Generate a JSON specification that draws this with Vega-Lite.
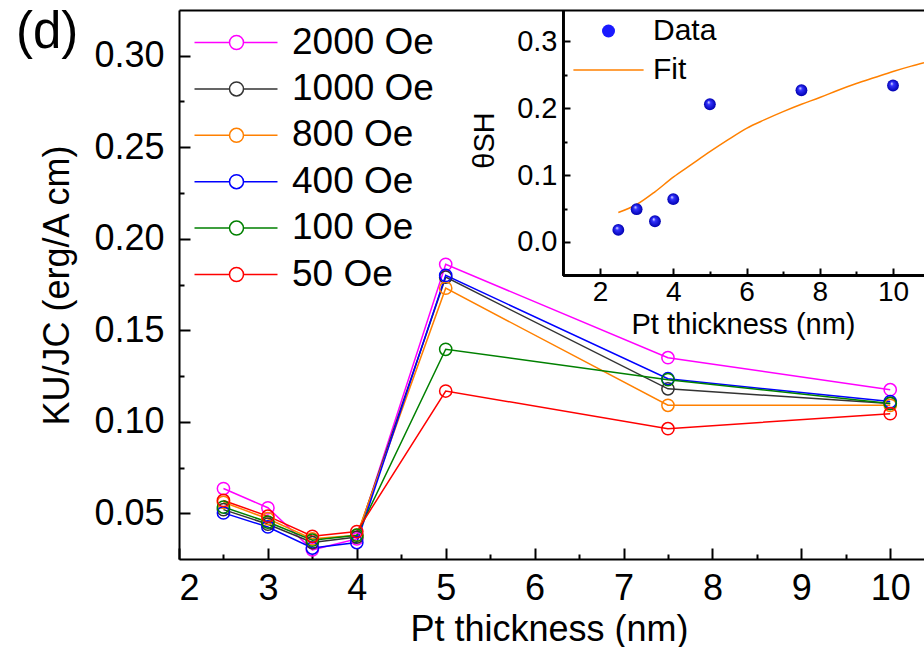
{
  "$schema": "https://vega.github.io/schema/vega-lite/v6.json",
  "width": 745,
  "height": 549,
  "autosize": {"type": "none"},
  "padding": {"left": 179, "top": 10, "right": 0, "bottom": 88},
  "background": "white",
  "config": {
    "view": {"stroke": null},
    "font": "Liberation Sans",
    "axis": {
      "grid": false,
      "domainColor": "#000",
      "domainWidth": 2,
      "tickColor": "#000",
      "tickWidth": 2,
      "labelColor": "#000",
      "titleColor": "#000",
      "labelFont": "Liberation Sans",
      "titleFont": "Liberation Sans",
      "titleFontWeight": "normal"
    }
  },
  "title": {
    "text": "(d)",
    "anchor": "start",
    "frame": "group",
    "font": "Liberation Sans",
    "fontSize": 51,
    "fontWeight": "normal",
    "color": "#000",
    "offset": 0,
    "dx": -163,
    "dy": 50
  },
  "datasets": {
    "main": [
      {"field": "2000 Oe", "t": 2.5, "k": 0.0635},
      {"field": "2000 Oe", "t": 3, "k": 0.053},
      {"field": "2000 Oe", "t": 3.5, "k": 0.030},
      {"field": "2000 Oe", "t": 4, "k": 0.036},
      {"field": "2000 Oe", "t": 5, "k": 0.186},
      {"field": "2000 Oe", "t": 7.5, "k": 0.135},
      {"field": "2000 Oe", "t": 10, "k": 0.1175},
      {"field": "1000 Oe", "t": 2.5, "k": 0.052},
      {"field": "1000 Oe", "t": 3, "k": 0.044},
      {"field": "1000 Oe", "t": 3.5, "k": 0.034},
      {"field": "1000 Oe", "t": 4, "k": 0.037},
      {"field": "1000 Oe", "t": 5, "k": 0.179},
      {"field": "1000 Oe", "t": 7.5, "k": 0.118},
      {"field": "1000 Oe", "t": 10, "k": 0.110},
      {"field": "800 Oe", "t": 2.5, "k": 0.056},
      {"field": "800 Oe", "t": 3, "k": 0.047},
      {"field": "800 Oe", "t": 3.5, "k": 0.036},
      {"field": "800 Oe", "t": 4, "k": 0.038},
      {"field": "800 Oe", "t": 5, "k": 0.173},
      {"field": "800 Oe", "t": 7.5, "k": 0.109},
      {"field": "800 Oe", "t": 10, "k": 0.109},
      {"field": "400 Oe", "t": 2.5, "k": 0.0502},
      {"field": "400 Oe", "t": 3, "k": 0.0425},
      {"field": "400 Oe", "t": 3.5, "k": 0.031},
      {"field": "400 Oe", "t": 4, "k": 0.034},
      {"field": "400 Oe", "t": 5, "k": 0.180},
      {"field": "400 Oe", "t": 7.5, "k": 0.1235},
      {"field": "400 Oe", "t": 10, "k": 0.111},
      {"field": "100 Oe", "t": 2.5, "k": 0.0534},
      {"field": "100 Oe", "t": 3, "k": 0.0452},
      {"field": "100 Oe", "t": 3.5, "k": 0.0353},
      {"field": "100 Oe", "t": 4, "k": 0.038},
      {"field": "100 Oe", "t": 5, "k": 0.1396},
      {"field": "100 Oe", "t": 7.5, "k": 0.123},
      {"field": "100 Oe", "t": 10, "k": 0.110},
      {"field": "50 Oe", "t": 2.5, "k": 0.057},
      {"field": "50 Oe", "t": 3, "k": 0.0484},
      {"field": "50 Oe", "t": 3.5, "k": 0.0374},
      {"field": "50 Oe", "t": 4, "k": 0.040},
      {"field": "50 Oe", "t": 5, "k": 0.1168},
      {"field": "50 Oe", "t": 7.5, "k": 0.0962},
      {"field": "50 Oe", "t": 10, "k": 0.1044}
    ],
    "inset": [
      {"kind": "Data", "t": 2.5, "theta": 0.018},
      {"kind": "Data", "t": 3, "theta": 0.049},
      {"kind": "Data", "t": 3.5, "theta": 0.031},
      {"kind": "Data", "t": 4, "theta": 0.064},
      {"kind": "Data", "t": 5, "theta": 0.206},
      {"kind": "Data", "t": 7.5, "theta": 0.227},
      {"kind": "Data", "t": 10, "theta": 0.234}
    ],
    "fit": [
      {"kind": "Fit", "t": 2.5, "theta": 0.044},
      {"kind": "Fit", "t": 3, "theta": 0.056},
      {"kind": "Fit", "t": 3.5, "theta": 0.075},
      {"kind": "Fit", "t": 4, "theta": 0.097},
      {"kind": "Fit", "t": 4.5, "theta": 0.116},
      {"kind": "Fit", "t": 5, "theta": 0.135},
      {"kind": "Fit", "t": 5.5, "theta": 0.153},
      {"kind": "Fit", "t": 6, "theta": 0.170},
      {"kind": "Fit", "t": 6.5, "theta": 0.183},
      {"kind": "Fit", "t": 7, "theta": 0.195},
      {"kind": "Fit", "t": 7.5, "theta": 0.206},
      {"kind": "Fit", "t": 8, "theta": 0.216},
      {"kind": "Fit", "t": 8.5, "theta": 0.227},
      {"kind": "Fit", "t": 9, "theta": 0.237},
      {"kind": "Fit", "t": 9.5, "theta": 0.246},
      {"kind": "Fit", "t": 10, "theta": 0.255},
      {"kind": "Fit", "t": 10.5, "theta": 0.263},
      {"kind": "Fit", "t": 10.846, "theta": 0.268}
    ]
  },
  "layer": [
    {
      "data": {"name": "main"},
      "mark": {"type": "line", "strokeWidth": 1.5},
      "encoding": {
        "x": {
          "field": "t", "type": "quantitative",
          "scale": {"domain": [2, 10.38], "nice": false, "zero": false},
          "axis": {
            "orient": "bottom",
            "values": [2, 3, 4, 5, 6, 7, 8, 9, 10],
            "ticks": false,
            "labelFontSize": 36,
            "labelPadding": 12,
            "title": "Pt thickness (nm)",
            "titleFontSize": 36,
            "titleBaseline": "alphabetic",
            "titleAlign": "center",
            "titleX": 370,
            "titleY": 81
          }
        },
        "y": {
          "field": "k", "type": "quantitative",
          "scale": {"domain": [0.025, 0.325], "nice": false, "zero": false},
          "axis": {
            "orient": "left",
            "values": [0.05, 0.10, 0.15, 0.20, 0.25, 0.30],
            "format": ".2f",
            "ticks": false,
            "labelFontSize": 36,
            "labelPadding": 15,
            "title": "KU/JC (erg/A cm)",
            "titleFontSize": 36,
            "titleAngle": 270,
            "titleBaseline": "alphabetic",
            "titleAlign": "center",
            "titleX": -111,
            "titleY": 275
          }
        },
        "color": {
          "field": "field", "type": "nominal",
          "scale": {
            "domain": ["2000 Oe", "1000 Oe", "800 Oe", "400 Oe", "100 Oe", "50 Oe"],
            "range": ["#ff00ff", "#333333", "#ff8000", "#0000ff", "#008000", "#ff0000"]
          },
          "legend": {
            "orient": "none",
            "legendX": 39,
            "legendY": 14,
            "title": null,
            "padding": 0,
            "symbolType": "M-5.25,0H-0.875M0.875,0H5.125M-0.875,0A0.875,0.875,0,1,0,0.875,0A0.875,0.875,0,1,0,-0.875,0",
            "symbolSize": 256,
            "symbolStrokeWidth": 1.5,
            "symbolFillColor": "transparent",
            "labelFontSize": 37,
            "labelFont": "Liberation Sans",
            "labelColor": "#000",
            "labelOffset": 37,
            "labelLimit": 400,
            "rowPadding": 8.4
          }
        }
      }
    },
    {
      "data": {"name": "main"},
      "mark": {"type": "point", "shape": "circle", "filled": false, "size": 150, "strokeWidth": 1.5, "opacity": 1},
      "encoding": {
        "x": {"field": "t", "type": "quantitative", "scale": {"domain": [2, 10.38], "nice": false, "zero": false}, "axis": null},
        "y": {"field": "k", "type": "quantitative", "scale": {"domain": [0.025, 0.325], "nice": false, "zero": false}, "axis": null},
        "color": {"field": "field", "type": "nominal"}
      }
    },
    {
      "data": {"name": "main"},
      "mark": {"type": "point", "opacity": 0},
      "encoding": {
        "x": {
          "field": "t", "type": "quantitative",
          "scale": {"domain": [2, 10.38], "nice": false, "zero": false},
          "axis": {"orient": "top", "offset": -549, "values": [2, 3, 4, 5, 6, 7, 8, 9, 10], "tickSize": 11, "labels": false, "domain": false, "title": null}
        },
        "y": {
          "field": "k", "type": "quantitative",
          "scale": {"domain": [0.025, 0.325], "nice": false, "zero": false},
          "axis": {"orient": "right", "offset": -745, "values": [0.05, 0.10, 0.15, 0.20, 0.25, 0.30], "tickSize": 11, "labels": false, "domain": false, "title": null}
        }
      }
    },
    {
      "data": {"name": "main"},
      "mark": {"type": "point", "opacity": 0},
      "encoding": {
        "x": {
          "field": "t", "type": "quantitative",
          "scale": {"domain": [2, 10.38], "nice": false, "zero": false},
          "axis": {"orient": "top", "offset": -549, "values": [2.5, 3.5, 4.5, 5.5, 6.5, 7.5, 8.5, 9.5], "tickSize": 5, "labels": false, "domain": false, "title": null}
        },
        "y": {
          "field": "k", "type": "quantitative",
          "scale": {"domain": [0.025, 0.325], "nice": false, "zero": false},
          "axis": {"orient": "right", "offset": -745, "values": [0.075, 0.125, 0.175, 0.225, 0.275], "tickSize": 5, "labels": false, "domain": false, "title": null}
        }
      }
    },
    {
      "data": {"name": "main"},
      "mark": {"type": "point", "opacity": 0},
      "encoding": {
        "x": {
          "field": "t", "type": "quantitative",
          "scale": {"domain": [2, 10.38], "nice": false, "zero": false},
          "axis": {"orient": "top", "ticks": false, "labels": false, "domain": true, "title": null}
        },
        "y": {
          "field": "k", "type": "quantitative",
          "scale": {"domain": [0.025, 0.325], "nice": false, "zero": false},
          "axis": null
        }
      }
    },
    {
      "data": {"name": "fit"},
      "mark": {"type": "line", "strokeWidth": 1.5, "interpolate": "monotone"},
      "encoding": {
        "x": {
          "field": "t", "type": "quantitative",
          "scale": {"domain": [-9.495, 10.846], "nice": false, "zero": false},
          "axis": {
            "orient": "bottom", "offset": -284, "domain": false, "ticks": false,
            "values": [2, 4, 6, 8, 10],
            "labelFontSize": 28,
            "labelPadding": 3,
            "title": "Pt thickness (nm)",
            "titleFontSize": 29,
            "titleBaseline": "alphabetic",
            "titleAlign": "center",
            "titleX": 564,
            "titleY": 58
          }
        },
        "y": {
          "field": "theta", "type": "quantitative",
          "scale": {"domain": [-0.4743, 0.347], "nice": false, "zero": false},
          "axis": {
            "orient": "left", "offset": -384, "domain": false, "ticks": false,
            "values": [0, 0.1, 0.2, 0.3],
            "format": ".1f",
            "labelFontSize": 29,
            "labelPadding": 6,
            "title": "θSH",
            "titleFontSize": 29,
            "titleAngle": 270,
            "titleBaseline": "alphabetic",
            "titleAlign": "center",
            "titleX": -70,
            "titleY": 130
          }
        },
        "stroke": {
          "field": "kind", "type": "nominal",
          "scale": {"domain": ["Fit"], "range": ["#ff8000"]},
          "legend": {
            "orient": "none",
            "legendX": 414.5,
            "legendY": 45,
            "title": null,
            "padding": 0,
            "symbolType": "M-5.4,0H5.4",
            "symbolSize": 169,
            "symbolStrokeWidth": 1.5,
            "labelFontSize": 30,
            "labelFont": "Liberation Sans",
            "labelColor": "#000",
            "labelOffset": 29.5
          }
        }
      }
    },
    {
      "data": {"name": "inset"},
      "mark": {"type": "point", "shape": "circle", "filled": true, "size": 140, "opacity": 0},
      "encoding": {
        "x": {"field": "t", "type": "quantitative", "scale": {"domain": [-9.495, 10.846], "nice": false, "zero": false}, "axis": null},
        "y": {"field": "theta", "type": "quantitative", "scale": {"domain": [-0.4743, 0.347], "nice": false, "zero": false}, "axis": null},
        "fill": {
          "field": "kind", "type": "nominal",
          "scale": {"domain": ["Data"], "range": ["#1a1aff"]},
          "legend": {
            "orient": "none",
            "legendX": 414.5,
            "legendY": 6,
            "title": null,
            "padding": 0,
            "symbolType": "circle",
            "symbolSize": 169,
            "symbolOpacity": 1,
            "labelFontSize": 30,
            "labelFont": "Liberation Sans",
            "labelColor": "#000",
            "labelOffset": 29.5
          }
        }
      }
    },
    {
      "data": {"name": "inset"},
      "mark": {
        "type": "point", "shape": "circle", "filled": true, "size": 140, "opacity": 1,
        "fill": {
          "gradient": "radial",
          "x1": 0.38, "y1": 0.32, "r1": 0,
          "x2": 0.5, "y2": 0.5, "r2": 0.5,
          "stops": [
            {"offset": 0, "color": "#ffffff"},
            {"offset": 0.3, "color": "#3333ff"},
            {"offset": 1, "color": "#0000b0"}
          ]
        }
      },
      "encoding": {
        "x": {"field": "t", "type": "quantitative", "scale": {"domain": [-9.495, 10.846], "nice": false, "zero": false}, "axis": null},
        "y": {"field": "theta", "type": "quantitative", "scale": {"domain": [-0.4743, 0.347], "nice": false, "zero": false}, "axis": null}
      }
    },
    {
      "data": {"name": "inset"},
      "mark": {"type": "point", "opacity": 0},
      "encoding": {
        "x": {
          "field": "t", "type": "quantitative",
          "scale": {"domain": [-9.495, 10.846], "nice": false, "zero": false},
          "axis": {"orient": "top", "offset": -265, "values": [2, 4, 6, 8, 10], "tickSize": 7, "labels": false, "domain": false, "title": null}
        },
        "y": {
          "field": "theta", "type": "quantitative",
          "scale": {"domain": [-0.4743, 0.347], "nice": false, "zero": false},
          "axis": {"orient": "right", "offset": -361, "values": [0, 0.1, 0.2, 0.3], "tickSize": 7, "labels": false, "domain": false, "title": null}
        }
      }
    },
    {
      "data": {"name": "inset"},
      "mark": {"type": "point", "opacity": 0},
      "encoding": {
        "x": {
          "field": "t", "type": "quantitative",
          "scale": {"domain": [-9.495, 10.846], "nice": false, "zero": false},
          "axis": {"orient": "top", "offset": -265, "values": [3, 5, 7, 9], "tickSize": 4, "labels": false, "domain": false, "title": null}
        },
        "y": {
          "field": "theta", "type": "quantitative",
          "scale": {"domain": [-0.4743, 0.347], "nice": false, "zero": false},
          "axis": {"orient": "right", "offset": -361, "values": [0.05, 0.15, 0.25], "tickSize": 4, "labels": false, "domain": false, "title": null}
        }
      }
    },
    {
      "data": {"name": "inset"},
      "mark": {"type": "rule", "color": "#000", "strokeWidth": 2},
      "encoding": {
        "x": {"datum": 1, "type": "quantitative", "scale": {"domain": [-9.495, 10.846], "nice": false, "zero": false}, "axis": null},
        "y": {"datum": -0.05, "type": "quantitative", "scale": {"domain": [-0.4743, 0.347], "nice": false, "zero": false}, "axis": null},
        "y2": {"datum": 0.347}
      }
    },
    {
      "data": {"name": "inset"},
      "mark": {"type": "rule", "color": "#000", "strokeWidth": 2},
      "encoding": {
        "x": {"datum": 1, "type": "quantitative", "scale": {"domain": [-9.495, 10.846], "nice": false, "zero": false}, "axis": null},
        "x2": {"datum": 10.846},
        "y": {"datum": -0.05, "type": "quantitative", "scale": {"domain": [-0.4743, 0.347], "nice": false, "zero": false}, "axis": null}
      }
    }
  ],
  "resolve": {
    "scale": {"x": "independent", "y": "independent"},
    "axis": {"x": "independent", "y": "independent"}
  }
}
